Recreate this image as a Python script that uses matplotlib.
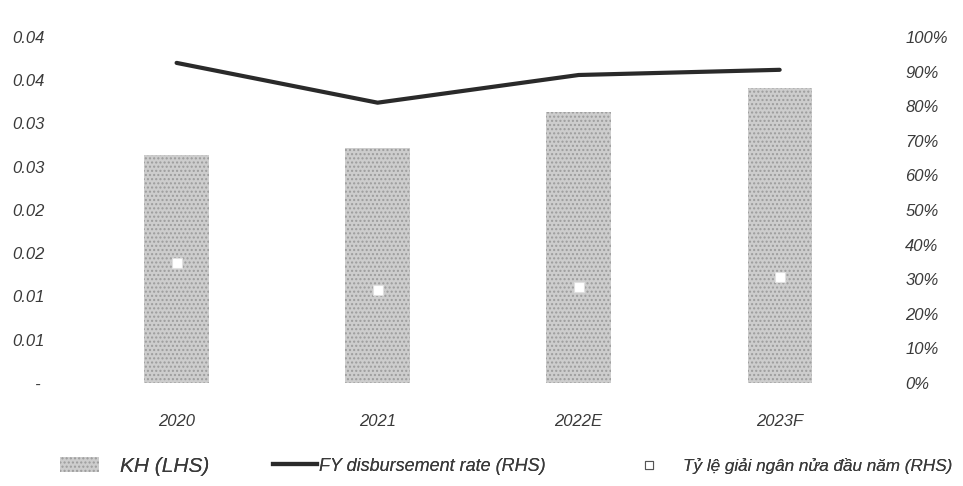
import numpy as np
import matplotlib
matplotlib.use("Agg")
import matplotlib.pyplot as plt
from matplotlib.ticker import FixedLocator, FixedFormatter, PercentFormatter
from matplotlib.lines import Line2D
from matplotlib.patches import Patch

# ---- data ----
years = ["2020", "2021", "2022E", "2023F"]
kh = [0.0264, 0.0272, 0.0313, 0.0341]              # LHS
fy_rate = [92.5, 81.0, 89.0, 90.5]                 # RHS, %
h1_rate = [34.7, 27.0, 27.7, 30.6]                 # RHS, %
left_ticks = [0, 0.005, 0.01, 0.015, 0.02, 0.025, 0.03, 0.035, 0.04]
left_labels = ["     -", "0.01", "0.01", "0.02", "0.02", "0.03", "0.03", "0.04", "0.04"]

# ---- style ----
fam = ["Liberation Sans", "DejaVu Sans"]
txt = "#3a3a3a"
bar_fc = "#cdcdcd"
bar_hatch = "#9c9c9c"
plt.rcParams["font.family"] = fam
plt.rcParams["font.style"] = "italic"

fig = plt.figure(figsize=(9.63, 4.86), dpi=100)
ax = fig.add_axes([0.079, 0.212, 0.835, 0.712])
ax2 = ax.twinx()

x = np.arange(len(years))
ax.bar(x, kh, width=0.32, color=bar_fc, edgecolor=bar_hatch,
       hatch="....", linewidth=0)

ax2.plot(x, fy_rate, color="#2a2a2a", lw=3, solid_capstyle="round", zorder=3)
ax2.plot(x, h1_rate, ls="none", marker="s", ms=7, mfc="white",
         mec="#e0e0e0", mew=0.8, zorder=4)

ax.set_xlim(-0.5, 3.5)
ax.set_ylim(0, 0.04)
ax2.set_ylim(0, 100)
ax.yaxis.set_major_locator(FixedLocator(left_ticks))
ax.yaxis.set_major_formatter(FixedFormatter(left_labels))
ax2.set_yticks(np.arange(0, 101, 10))
ax2.yaxis.set_major_formatter(PercentFormatter(decimals=0))

ax.set_xticks(x)
ax.set_xticklabels(years)

for a in (ax, ax2):
    for s in a.spines.values():
        s.set_visible(False)
    a.tick_params(length=0, labelsize=12, colors=txt)
ax.tick_params(axis="y", pad=46)
ax.tick_params(axis="x", pad=22)
ax2.tick_params(axis="y", pad=18)
for lbl in ax.get_yticklabels():
    lbl.set_horizontalalignment("left")

# legend entries placed one by one, like the original's spread-out key
# (handle, label, x start, font size, handle length, handle/text gap)
entries = [
    (Patch(facecolor=bar_fc, edgecolor=bar_hatch, hatch="....", linewidth=0),
     "KH (LHS)", 0.062, 15, 1.9, 1.0),
    (Line2D([0], [0], color="#2a2a2a", lw=3),
     "FY disbursement rate (RHS)", 0.2835, 13, 2.45, 0.1),
    (Line2D([0], [0], ls="none", marker="s", ms=6, mfc="white", mec="#555555", mew=0.8),
     "Tỷ lệ giải ngân nửa đầu năm (RHS)", 0.6646, 12.3, 1.0, 1.5),
]
for h, lab, xpos, fs, hl, tp in entries:
    lg = fig.legend([h], [lab], loc="center left", bbox_to_anchor=(xpos, 0.041),
                    frameon=False, fontsize=fs, borderpad=0, borderaxespad=0,
                    handlelength=hl, handletextpad=tp, labelcolor=txt)
    fig.add_artist(lg)

fig.savefig("out.png", dpi=100)
